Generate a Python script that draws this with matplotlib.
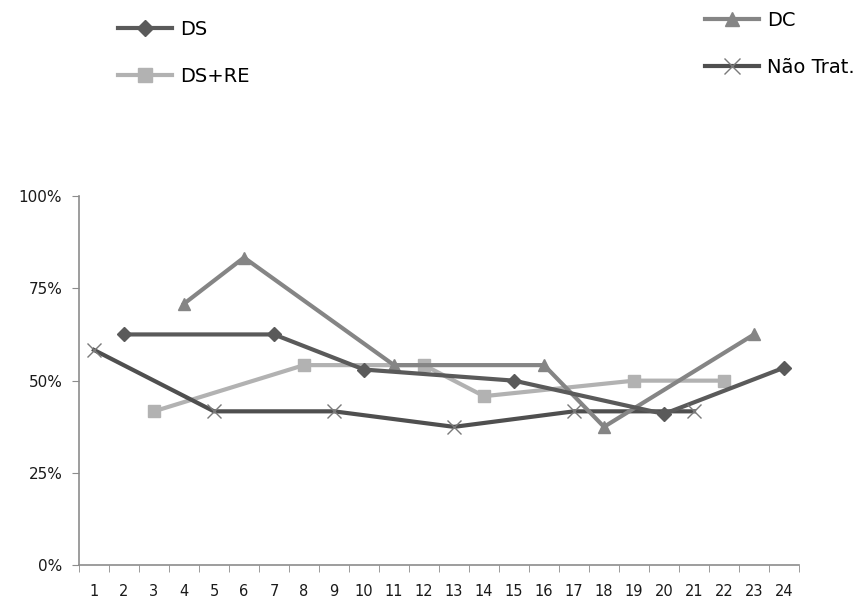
import matplotlib.pyplot as plt
from matplotlib.lines import Line2D
from matplotlib.ticker import FuncFormatter

# sessions 1..24, each group measured on its own days
sessions = list(range(1, 25))

ds_x = [2, 7, 10, 15, 20, 24]
ds_y = [0.625, 0.625, 0.53, 0.50, 0.41, 0.535]

dc_x = [4, 6, 11, 16, 18, 23]
dc_y = [0.708, 0.833, 0.542, 0.542, 0.375, 0.625]

dsre_x = [3, 8, 12, 14, 19, 22]
dsre_y = [0.417, 0.542, 0.542, 0.458, 0.50, 0.50]

nt_x = [1, 5, 9, 13, 17, 21]
nt_y = [0.583, 0.417, 0.417, 0.375, 0.417, 0.417]

c_ds = "#5a5a5a"
c_dc = "#858585"
c_dsre = "#b2b2b2"
c_nt = "#4f4f4f"
c_axis = "#8c8c8c"

plt.rcParams["font.family"] = ["DejaVu Sans"]

fig = plt.figure(figsize=(8.64, 6.07), dpi=100)
ax = fig.add_axes([0.0914, 0.0684, 0.8334, 0.609])

lw = 3.0
ax.plot(dc_x, dc_y, color=c_dc, lw=lw, marker="^", ms=9, zorder=3)
ax.plot(ds_x, ds_y, color=c_ds, lw=lw, marker="D", ms=7, zorder=4)
ax.plot(dsre_x, dsre_y, color=c_dsre, lw=lw, marker="s", ms=9, zorder=2)
ax.plot(nt_x, nt_y, color=c_nt, lw=lw, zorder=2)
ax.plot(nt_x, nt_y, ls="none", marker="x", ms=10, mew=1.0, color="#7a7a7a", zorder=5)

ax.set_xlim(0.5, 24.5)
ax.set_ylim(0, 1)
ax.set_yticks([0, 0.25, 0.5, 0.75, 1.0])
ax.yaxis.set_major_formatter(FuncFormatter(lambda v, _: f"{v:.0%}"))
ax.set_xticks(sessions)
ax.set_xticklabels([str(s) for s in sessions])
ax.set_xticks([s - 0.5 for s in sessions] + [24.5], minor=True)
ax.tick_params(axis="x", which="major", length=0, pad=13, labelsize=10.5, colors="#1a1a1a")
ax.tick_params(axis="x", which="minor", length=5, color=c_axis, direction="out")
ax.tick_params(axis="y", length=5, color=c_axis, labelsize=11, labelcolor="#1a1a1a", pad=7)
for side in ("top", "right"):
    ax.spines[side].set_visible(False)
for side in ("left", "bottom"):
    ax.spines[side].set_color(c_axis)
    ax.spines[side].set_linewidth(1.2)

h_ds = Line2D([], [], color=c_ds, lw=lw, marker="D", ms=8)
h_dsre = Line2D([], [], color=c_dsre, lw=lw, marker="s", ms=10)
h_dc = Line2D([], [], color=c_dc, lw=lw, marker="^", ms=10)
h_nt = Line2D([], [], color=c_nt, lw=lw, marker="x", ms=11, mew=1.0, mec="#7a7a7a")

leg_kw = dict(frameon=False, fontsize=14, handlelength=2.8, handletextpad=0.4,
              labelspacing=1.45, borderpad=0, borderaxespad=0)
fig.legend([h_ds, h_dsre], ["DS", "DS+RE"], loc="upper left",
           bbox_to_anchor=(118 / 864, 1 - 20 / 607), **leg_kw)
fig.legend([h_dc, h_nt], ["DC", "Não Trat."], loc="upper left",
           bbox_to_anchor=(705 / 864, 1 - 11 / 607), **leg_kw)

fig.savefig("out.png", dpi=100)
